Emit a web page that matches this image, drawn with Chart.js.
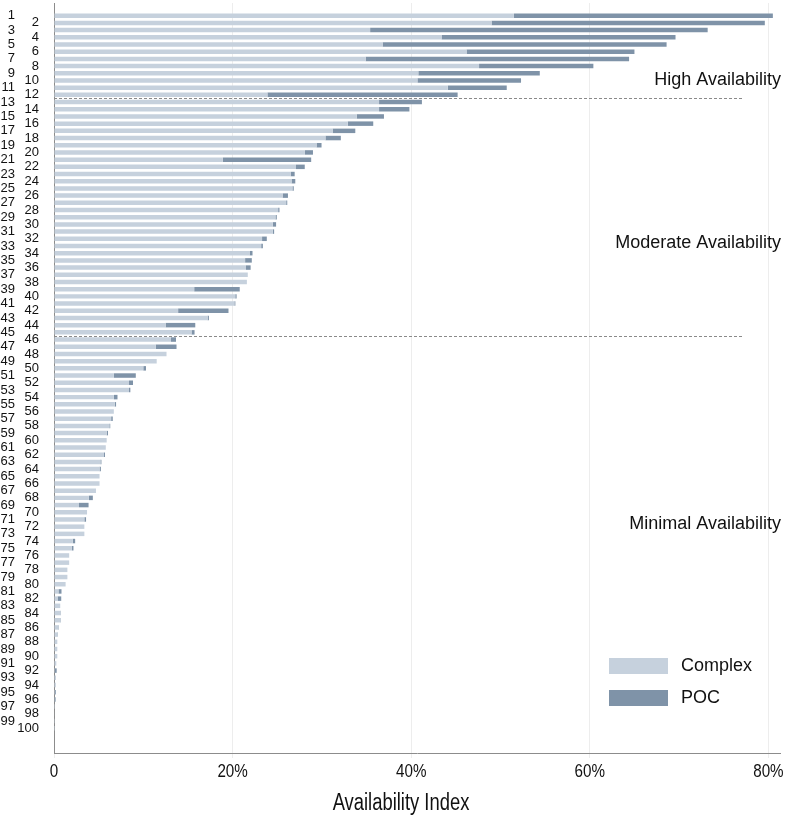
<!DOCTYPE html>
<html>
<head>
<meta charset="utf-8">
<script src="https://cdn.jsdelivr.net/npm/chart.js@4"></script>
<style>
  body { margin: 0; background: #fff; }
  #wrap { width: 795px; height: 818px; }
</style>
</head>
<body>
<div id="wrap"><canvas id="myChart"></canvas></div>
<script>
var labels = [];
for (var i = 1; i <= 100; i++) labels.push(i);

// Availability index (%) per rank
var complexValues = [
  51.5, 49.0, 35.4, 43.4, 36.8, 46.2, 34.9, 47.6, 40.8, 40.7,
  44.1, 23.9, 36.4, 36.4, 33.9, 32.9, 31.2, 30.4, 29.4, 28.1,
  18.9, 27.1, 26.5, 26.6, 26.7, 25.6, 26.0, 25.1, 24.8, 24.5,
  24.5, 23.3, 23.2, 21.9, 21.4, 21.5, 21.7, 21.6, 15.7, 20.3,
  20.2, 13.9, 17.2, 12.5, 15.4, 13.1, 11.4, 12.6, 11.5, 10.0,
  6.7, 8.4, 8.4, 6.7, 6.8, 6.7, 6.4, 6.2, 5.9, 5.9,
  5.8, 5.6, 5.2, 5.1, 5.1, 5.1, 4.7, 3.9, 2.8, 3.7,
  3.4, 3.4, 3.4, 2.1, 2.0, 1.7, 1.7, 1.5, 1.5, 1.3,
  0.5, 0.4, 0.7, 0.7, 0.7, 0.5, 0.35, 0.37, 0.37, 0.37,
  0.26, 0.1, 0.22, 0.19, 0.1, 0.08, 0.1, 0.05, 0.02, 0.01
];
var pocValues = [
  29.0, 30.6, 37.8, 26.2, 31.8, 18.8, 29.5, 12.8, 13.6, 11.6,
  6.6, 21.3, 4.8, 3.4, 3.05, 2.85, 2.54, 1.72, 0.56, 0.9,
  9.9, 0.98, 0.45, 0.42, 0.15, 0.6, 0.12, 0.15, 0.15, 0.37,
  0.15, 0.53, 0.19, 0.33, 0.75, 0.52, 0, 0, 5.1, 0.15,
  0.11, 5.64, 0.15, 3.32, 0.34, 0.56, 2.32, 0, 0, 0.3,
  2.46, 0.45, 0.15, 0.41, 0.15, 0, 0.18, 0.1, 0.15, 0,
  0, 0.11, 0.11, 0.15, 0, 0, 0, 0.45, 1.07, 0,
  0.19, 0, 0, 0.27, 0.18, 0, 0, 0, 0, 0,
  0.34, 0.41, 0, 0.05, 0.05, 0.05, 0.05, 0, 0, 0,
  0, 0.2, 0, 0.02, 0.1, 0.1, 0, 0, 0, 0
];
var xTicks = [0, 20, 40, 60, 80];
var xTitle = "Availability Index";

// band separators (between ranks) and band names
var bandLines = [12.5, 45.5];
var bandNames = ["High Availability", "Moderate Availability", "Minimal Availability"];
var bandNameRows = [9.9, 32.6, 71.6];

var colComplex = "#c6d1dd";
var colPoc = "#7f93a8";

// narrow-looking text: squeeze Liberation Sans horizontally
function narrowText(ctx, text, cx, baseY, size) {
  ctx.save();
  ctx.font = size + "px 'Liberation Sans', Arial, sans-serif";
  ctx.textAlign = "center";
  ctx.textBaseline = "alphabetic";
  ctx.translate(cx, baseY);
  ctx.scale(0.8, 1);
  ctx.fillText(text, 0, 0);
  ctx.restore();
}

var bandsPlugin = {
  id: "bands",
  afterDraw: function (chart) {
    var ctx = chart.ctx, x = chart.scales.x, y = chart.scales.y;
    ctx.save();
    ctx.strokeStyle = "#8a8a8a";
    ctx.lineWidth = 1;
    ctx.setLineDash([3, 2]);
    bandLines.forEach(function (v) {
      var py = Math.round(y.getPixelForValue(v)) + 0.5;
      ctx.beginPath();
      ctx.moveTo(x.getPixelForValue(0), py);
      ctx.lineTo(x.getPixelForValue(77.1), py);
      ctx.stroke();
    });
    ctx.setLineDash([]);
    ctx.fillStyle = "#111";
    ctx.font = "18px 'Liberation Sans', Arial, sans-serif";
    ctx.textAlign = "right";
    ctx.textBaseline = "middle";
    bandNames.forEach(function (t, i) {
      ctx.fillText(t, 781, y.getPixelForValue(bandNameRows[i]));
    });
    // legend
    ctx.textAlign = "left";
    chart.data.datasets.forEach(function (ds, i) {
      var top = 658 + i * 32;
      ctx.fillStyle = ds.backgroundColor;
      ctx.fillRect(609, top, 59, 16);
      ctx.fillStyle = "#111";
      ctx.fillText(ds.label, 681, top + 8);
    });
    // x tick labels and axis title
    xTicks.forEach(function (v) {
      narrowText(ctx, v === 0 ? "0" : v + "%", x.getPixelForValue(v), 777, 19);
    });
    narrowText(ctx, xTitle, 401, 810, 23);
    ctx.restore();
  }
};

function rowAxis(extra, width) {
  var base = {
    type: "linear",
    position: "left",
    reverse: true,
    offset: false,
    min: -0.765,
    max: 103.45,
    stacked: true,
    grid: { display: false, drawTicks: false },
    afterBuildTicks: function (s) {
      s.ticks = labels.map(function (v) { return { value: v }; });
    },
    afterFit: function (s) {
      s.width = width;
      s.paddingTop = 0;
      s.paddingBottom = 0;
    }
  };
  return Object.assign(base, extra);
}

new Chart("myChart", {
  type: "bar",
  data: {
    labels: labels,
    datasets: [
      { label: "Complex", data: complexValues, backgroundColor: colComplex },
      { label: "POC", data: pocValues, backgroundColor: colPoc }
    ]
  },
  options: {
    indexAxis: "y",
    responsive: true,
    maintainAspectRatio: false,
    animation: false,
    categoryPercentage: 0.8,
    barPercentage: 0.78,
    layout: { padding: { top: 3, right: 15, bottom: 0, left: 0 } },
    plugins: { legend: { display: false }, tooltip: { enabled: false } },
    scales: {
      x: {
        type: "linear",
        min: 0,
        max: 81.3,
        stacked: true,
        afterBuildTicks: function (s) {
          s.ticks = xTicks.map(function (v) { return { value: v }; });
        },
        afterFit: function (s) {
          s.height = 65;
          s.paddingLeft = 0;
          s.paddingRight = 0;
        },
        grid: { color: "#ededed", tickLength: 5 },
        border: { color: "#8c8c8c" },
        ticks: { display: false }
      },
      y: rowAxis({
        weight: 0,
        border: { color: "#8c8c8c" },
        ticks: {
          autoSkip: false,
          padding: 15,
          color: "#111",
          font: { family: "'Liberation Sans', Arial, sans-serif", size: 13 },
          callback: function (v) { return v % 2 === 0 ? String(labels[v - 1]) : ""; }
        }
      }, 38),
      y2: rowAxis({
        weight: 1,
        border: { display: false },
        ticks: {
          autoSkip: false,
          padding: 1,
          color: "#111",
          font: { family: "'Liberation Sans', Arial, sans-serif", size: 13 },
          callback: function (v) { return v % 2 === 1 ? String(labels[v - 1]) : ""; }
        }
      }, 16)
    }
  },
  plugins: [bandsPlugin]
});
</script>
</body>
</html>
